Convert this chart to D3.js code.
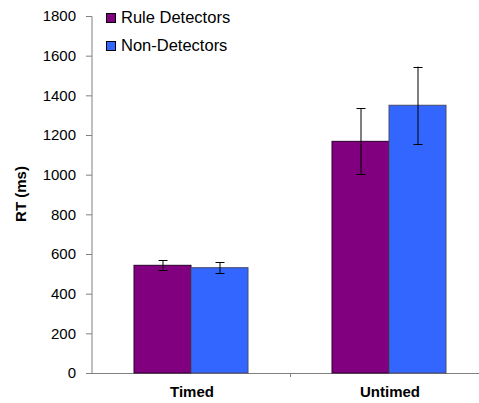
<!DOCTYPE html>
<html>
<head>
<meta charset="utf-8">
<script src="https://cdn.jsdelivr.net/npm/d3@7"></script>
<style>
  body { margin: 0; background: #fff; }
  svg { font-family: Arial, "Liberation Sans", sans-serif; }
</style>
</head>
<body>
<svg width="479" height="403"></svg>
<script>
const categories = ['Timed', 'Untimed'];
const seriesNames = ['Rule Detectors', 'Non-Detectors'];
const ruleDetectors = [543, 1168];
const nonDetectors = [531, 1350];
const ruleErr = [25, 166];
const nonErr = [27, 195];
const yTicks = [0, 200, 400, 600, 800, 1000, 1200, 1400, 1600, 1800];

const colors = ['#800080', '#3366ff'];
const strokes = ['#2a002a', '#4a4a6a'];

// rows: one per category, with both series
const rows = categories.map((c, i) => ({
  cat: c,
  vals: [
    {s: 0, v: ruleDetectors[i], e: ruleErr[i]},
    {s: 1, v: nonDetectors[i], e: nonErr[i]}
  ]
}));

const svg = d3.select('svg');

const x0 = d3.scaleBand()
  .domain(categories)
  .range([92, 488]);                // plot runs past the right edge

const groupW = 114;
const x1 = d3.scaleBand()
  .domain([0, 1])
  .range([0, groupW]);

const y = d3.scaleLinear()
  .domain([0, 1800])
  .range([373, 16]);

// y axis
const yAxis = svg.append('g')
  .attr('transform', 'translate(92,0)')
  .call(d3.axisLeft(y).tickValues(yTicks).tickSize(6).tickPadding(10).tickFormat(d3.format('d')));
yAxis.select('.domain').attr('stroke', '#808080').attr('d', 'M-6,16.5H0V373');
yAxis.selectAll('.tick line').attr('stroke', '#808080');
yAxis.selectAll('.tick text').attr('font-size', 15).attr('fill', '#000')
  .attr('font-family', 'Arial, "Liberation Sans", sans-serif');

// x axis line + category ticks
svg.append('line')
  .attr('x1', 92).attr('x2', 479)
  .attr('y1', y(0) + 0.5).attr('y2', y(0) + 0.5)
  .attr('stroke', '#808080');
svg.selectAll('.xtick')
  .data(categories.slice(1))
  .enter()
  .append('line')
  .attr('x1', d => x0(d) + 0.5).attr('x2', d => x0(d) + 0.5)
  .attr('y1', y(0)).attr('y2', y(0) + 4)
  .attr('stroke', '#808080');

// bars
const groups = svg.selectAll('.grp')
  .data(rows)
  .enter()
  .append('g')
  .attr('transform', d => `translate(${x0(d.cat) + (x0.bandwidth() - groupW) / 2},0)`);

groups.selectAll('rect')
  .data(d => d.vals)
  .enter()
  .append('rect')
  .attr('x', d => x1(d.s))
  .attr('y', d => y(d.v))
  .attr('width', x1.bandwidth())
  .attr('height', d => y(0) - y(d.v))
  .attr('fill', d => colors[d.s])
  .attr('stroke', d => strokes[d.s])
  .attr('stroke-width', 1);

// error bars
const eb = groups.selectAll('.err')
  .data(d => d.vals)
  .enter()
  .append('g')
  .attr('stroke', '#000')
  .attr('stroke-width', 1);
eb.append('line')
  .attr('x1', d => x1(d.s) + x1.bandwidth() / 2 + 0.5)
  .attr('x2', d => x1(d.s) + x1.bandwidth() / 2 + 0.5)
  .attr('y1', d => y(d.v + d.e)).attr('y2', d => y(d.v - d.e));
eb.selectAll('.cap')
  .data(d => [d.v + d.e, d.v - d.e].map(t => ({s: d.s, t: t})))
  .enter()
  .append('line')
  .attr('x1', d => x1(d.s) + x1.bandwidth() / 2 - 4)
  .attr('x2', d => x1(d.s) + x1.bandwidth() / 2 + 5)
  .attr('y1', d => Math.round(y(d.t)) + 0.5).attr('y2', d => Math.round(y(d.t)) + 0.5);

// category labels
svg.selectAll('.cat')
  .data(categories)
  .enter()
  .append('text')
  .attr('x', d => x0(d) + x0.bandwidth() / 2 + 1)
  .attr('y', 397)
  .attr('text-anchor', 'middle')
  .attr('font-weight', 'bold')
  .attr('font-size', 15)
  .text(d => d);

// y title
svg.append('text')
  .attr('transform', 'translate(26,194) rotate(-90)')
  .attr('text-anchor', 'middle')
  .attr('font-weight', 'bold')
  .attr('font-size', 15)
  .text('RT (ms)');

// legend
const leg = svg.selectAll('.leg')
  .data(seriesNames)
  .enter()
  .append('g')
  .attr('transform', (d, i) => `translate(106,${13 + i * 28})`);
leg.append('rect')
  .attr('x', 0.5).attr('y', 0.5)
  .attr('width', 9).attr('height', 9)
  .attr('fill', (d, i) => colors[i])
  .attr('stroke', '#000');
leg.append('text')
  .attr('x', 15).attr('y', 10)
  .attr('font-size', 16.5)
  .text(d => d);
</script>
</body>
</html>
